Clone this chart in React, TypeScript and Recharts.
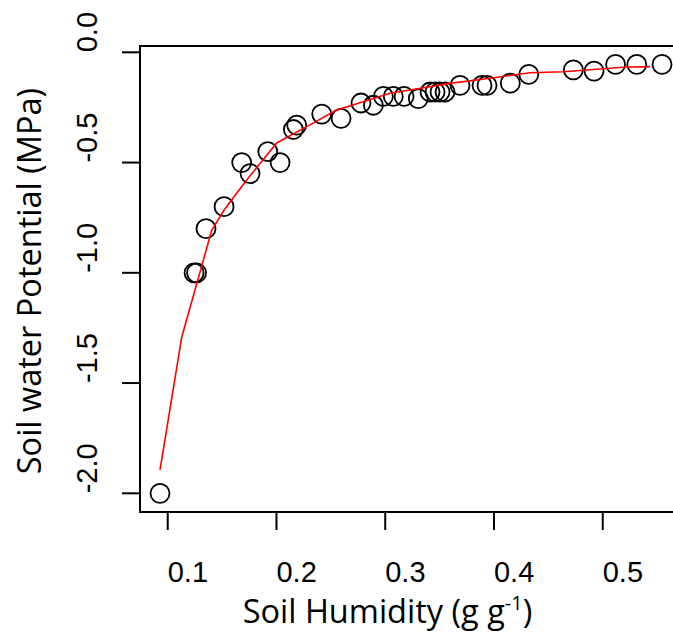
import React from 'react';
import { ScatterChart, Scatter, XAxis, YAxis, ReferenceArea } from 'recharts';

// Observed soil humidity (g g-1) and soil water potential (MPa)
const humidity = [
  0.0929, 0.1242, 0.1265, 0.1352, 0.1518, 0.168, 0.1757, 0.192, 0.2033, 0.2155,
  0.2186, 0.2416, 0.2594, 0.2777, 0.2891, 0.2983, 0.3074, 0.3173, 0.3304, 0.3412,
  0.3458, 0.3504, 0.355, 0.3688, 0.389, 0.3936, 0.415, 0.432, 0.473, 0.492,
  0.5118, 0.5313, 0.5545,
];
const potential = [
  -2.0, -1.0, -1.0, -0.8, -0.7, -0.5, -0.55, -0.45, -0.5, -0.35,
  -0.33, -0.28, -0.3, -0.23, -0.24, -0.2, -0.2, -0.2, -0.21, -0.18,
  -0.18, -0.18, -0.18, -0.15, -0.15, -0.15, -0.14, -0.1, -0.08, -0.085,
  -0.055, -0.055, -0.055,
];

// Fitted curve (red line) vertices
const fitHumidity = [
  0.0929, 0.1129, 0.1281, 0.1405, 0.1518, 0.1726, 0.2002, 0.2278, 0.2554, 0.2796,
  0.3044, 0.3228, 0.3596, 0.3964, 0.4332, 0.4635, 0.4945, 0.5187, 0.5435,
];
const fitPotential = [
  -1.894, -1.291, -1.025, -0.806, -0.715, -0.579, -0.411, -0.337, -0.262, -0.224,
  -0.186, -0.171, -0.141, -0.118, -0.0925, -0.088, -0.077, -0.068, -0.065,
];

const xTicks = [0.1, 0.2, 0.3, 0.4, 0.5];
const xTickLabels = ['0.1', '0.2', '0.3', '0.4', '0.5'];
const yTicks = [0, -0.5, -1, -1.5, -2];
const yTickLabels = ['0.0', '-0.5', '-1.0', '-1.5', '-2.0'];

const xDomain: [number, number] = [0.0745, 0.5738];
const yDomain: [number, number] = [-2.0848, 0.0286];

const points = humidity.map((h, i) => ({ x: h, y: potential[i] }));
const fit = fitHumidity.map((h, i) => ({ x: h, y: fitPotential[i] }));

const tickFont = '"Liberation Sans", Arial, sans-serif';
const titleFont = '"Open Sans", sans-serif';

const XTick = (props: any) => {
  const { x, y, payload } = props;
  const idx = xTicks.indexOf(payload.value);
  return (
    <text x={x} y={y} dy={52} textAnchor="start" fontFamily={tickFont} fontSize={29} fill="#000">
      {idx >= 0 ? xTickLabels[idx] : String(payload.value)}
    </text>
  );
};

const YTick = (props: any) => {
  const { x, y, payload } = props;
  const idx = yTicks.indexOf(payload.value);
  const bx = x - 25;
  return (
    <text x={bx} y={y} transform={`rotate(-90 ${bx} ${y})`} textAnchor="start" fontFamily={tickFont} fontSize={29} fill="#000">
      {idx >= 0 ? yTickLabels[idx] : String(payload.value)}
    </text>
  );
};

const XTitle = (props: any) => {
  const vb = props.viewBox || { x: 140, y: 512 };
  const cx = vb.x + 247.5;
  const by = vb.y + 111;
  return (
    <text x={cx} y={by} textAnchor="middle" fontFamily={titleFont} fontSize={32.5} fill="#000">
      <tspan>Soil Humidity (g g</tspan>
      <tspan dy={-13} fontSize={20}>-1</tspan>
      <tspan dy={13}>)</tspan>
    </text>
  );
};

const YTitle = (props: any) => {
  const vb = props.viewBox || { x: 60, y: 46 };
  const bx = vb.x - 19;
  const cy = vb.y + 235;
  return (
    <text x={bx} y={cy} transform={`rotate(-90 ${bx} ${cy})`} textAnchor="middle" fontFamily={titleFont} fontSize={32.5} fill="#000">
      Soil water Potential (MPa)
    </text>
  );
};

const Circle = (props: any) => {
  const { cx, cy } = props;
  if (cx == null || cy == null) return <g />;
  return <circle cx={cx} cy={cy} r={9.5} fill="none" stroke="#000" strokeWidth={1.8} />;
};

const NoShape = () => <g />;

export default function App() {
  return (
    <div style={{ position: 'fixed', left: 0, top: 0, width: 673, height: 640, overflow: 'hidden', background: '#fff' }}>
      <ScatterChart width={700} height={640} margin={{ top: 46, right: 17, bottom: 68, left: 60 }}>
        <XAxis
          type="number"
          dataKey="x"
          domain={xDomain}
          ticks={xTicks}
          allowDataOverflow
          axisLine={false}
          tickLine={{ stroke: '#000', strokeWidth: 2 }}
          tickSize={18}
          tickMargin={0}
          tick={<XTick />}
          height={60}
          interval={0}
          label={{ content: <XTitle /> }}
        />
        <YAxis
          type="number"
          dataKey="y"
          domain={yDomain}
          ticks={yTicks}
          allowDataOverflow
          axisLine={false}
          tickLine={{ stroke: '#000', strokeWidth: 2 }}
          tickSize={18}
          tickMargin={0}
          tick={<YTick />}
          width={80}
          interval={0}
          label={{ content: <YTitle /> }}
        />
        <ReferenceArea
          x1={xDomain[0]}
          x2={xDomain[1]}
          y1={yDomain[0]}
          y2={yDomain[1]}
          fill="none"
          fillOpacity={0}
          stroke="#000"
          strokeWidth={2}
          ifOverflow="visible"
        />
        <Scatter data={points} shape={<Circle />} isAnimationActive={false} />
        <Scatter
          data={fit}
          shape={<NoShape />}
          line={{ stroke: '#ff0000', strokeWidth: 1.6 }}
          lineType="joint"
          isAnimationActive={false}
        />
      </ScatterChart>
    </div>
  );
}
